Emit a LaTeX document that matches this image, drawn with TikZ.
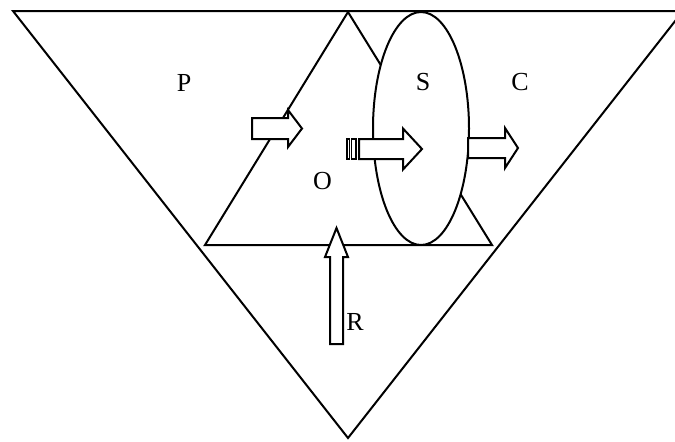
\documentclass[tikz,border=0pt]{standalone}
\usepackage{fontspec}
\setmainfont{Liberation Serif}
\usetikzlibrary{positioning}
\tikzset{
  edge/.style={black,line width=1pt},
  blockarrow/.style={draw=black,fill=white,line width=1pt,line join=miter},
  stripe/.style={draw=black,fill=white,line width=0.7pt},
  region/.style={draw=black,fill=white,line width=1pt},
  lab/.style={font=\fontsize{13}{15}\selectfont,inner sep=0pt},
}

\begin{document}
\begin{tikzpicture}[x=0.5pt,y=-0.5pt]
  \useasboundingbox (0,0) rectangle (675,441);
  \clip (0,0) rectangle (675,441);

  % outer and inner triangles
  \draw[edge] (13,11) -- (683,11) -- (348,438) -- cycle;
  \draw[edge] (348,12) -- (492,245) -- (205,245) -- cycle;
  % S ellipse
  \draw[region] (421,128.5) ellipse [x radius=48, y radius=116.5];

  \node[lab] (P) at (184,82.5) {P};
  \node[lab] (S) at (423,82) {S};
  \node[lab] (C) at (520,82.5) {C};
  \node[lab] (O) at (322.5,181.5) {O};

  % P into O
  \draw[blockarrow] (252,118) -- (288,118) -- (288,110) -- (302,128.5)
    -- (288,147) -- (288,139) -- (252,139) -- cycle;
  % O into S (striped tail)
  \draw[stripe] (347,139) rectangle (349.5,159);
  \draw[stripe] (351.5,139) rectangle (356,159);
  \draw[blockarrow] (359,139) -- (403,139) -- (403,128.5) -- (422,149)
    -- (403,169.5) -- (403,159) -- (359,159) -- cycle;
  % S into C
  \draw[blockarrow] (468,138) -- (505,138) -- (505,128) -- (518,148)
    -- (505,168) -- (505,158) -- (468,158) -- cycle;
  % R up into O
  \draw[blockarrow] (330,344) -- (330,257) -- (325,257) -- (336.5,228)
    -- (348,257) -- (343,257) -- (343,344) -- cycle;

  \node[lab] (R) at (355,322) {R};
\end{tikzpicture}
\end{document}
